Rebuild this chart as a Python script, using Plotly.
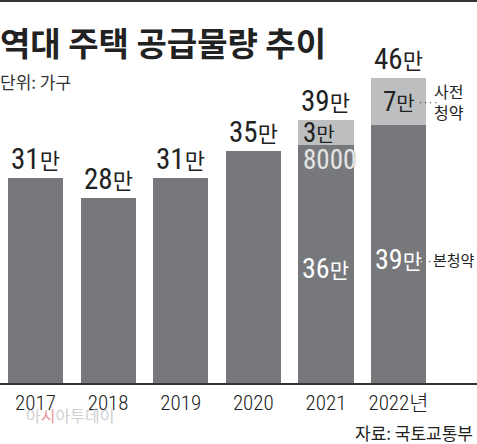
import plotly.graph_objects as go

# ---- data ----
years = ["2017", "2018", "2019", "2020", "2021", "2022년"]
main_supply = [31, 28, 31, 35, 36, 39]        # 본청약 (만 가구)
pre_subscription = [0, 0, 0, 0, 3.8, 7]         # 사전청약 (만 가구)
total_labels = ["31만", "28만", "31만", "35만", "39만", "46만"]
main_labels = ["", "", "", "", "36만", "39만"]
pre_labels = ["", "", "", "", "3만", "7만"]

DARK = "#77787b"
LIGHT = "#bdbec0"
TXT = "#222222"
NUM_FONT = "Roboto Condensed, Noto Sans CJK KR, sans-serif"
KR_FONT = "Noto Sans CJK KR, sans-serif"

xs = list(range(len(years)))
totals = [a + b for a, b in zip(main_supply, pre_subscription)]

fig = go.Figure()
fig.add_trace(go.Bar(x=xs, y=main_supply, width=0.76, marker=dict(color=DARK, line=dict(width=0)),
                     hoverinfo="skip", showlegend=False))
fig.add_trace(go.Bar(x=xs, y=pre_subscription, width=0.76, marker=dict(color=LIGHT, line=dict(width=0)),
                     hoverinfo="skip", showlegend=False))

PX_PER_UNIT = 6.62
PLOT_H = 383
ymax = PLOT_H / PX_PER_UNIT

def val(txt, hsize=22):
    out = ""
    for ch in txt:
        if ch.isdigit():
            out += ch
        else:
            out += f"<span style='font-size:{hsize}px'>{ch}</span>"
    return out

ann = []
for i, (t, lab) in enumerate(zip(totals, total_labels)):
    ann.append(dict(x=i, y=t, xref="x", yref="y", text=val(lab, 22), showarrow=False,
                    yanchor="bottom", yshift=0, font=dict(family=NUM_FONT, size=29, color=TXT)))
for i, lab in enumerate(main_labels):
    if lab:
        ann.append(dict(x=i, y=main_supply[i] * 0.48, xref="x", yref="y", text=val(lab, 21),
                        showarrow=False, font=dict(family=NUM_FONT, size=28, color="white")))
ann.append(dict(x=4 - 0.38, y=main_supply[4] + pre_subscription[4] / 2 - 0.2, xref="x", yref="y",
                text=val(pre_labels[4], 20), showarrow=False, xanchor="left", xshift=3,
                font=dict(family=NUM_FONT, size=27, color=TXT)))
ann.append(dict(x=4 - 0.38, y=main_supply[4] - 2.3, xref="x", yref="y", text="8000",
                showarrow=False, xanchor="left", xshift=3,
                font=dict(family=NUM_FONT, size=27, color="#e3e3e3", shadow="0 0 2px #8a8a8a")))
ann.append(dict(x=5, y=main_supply[5] + pre_subscription[5] / 2, xref="x", yref="y",
                text=val(pre_labels[5], 20), showarrow=False,
                font=dict(family=NUM_FONT, size=27, color=TXT)))

edge = 5 + 0.38
y_pre = main_supply[5] + pre_subscription[5] / 2
y_main = main_supply[5] * 0.48
# dotted leaders
ann.append(dict(x=edge, y=y_pre - 0.2, xref="x", yref="y", text="····", showarrow=False,
                xanchor="left", xshift=-10, font=dict(family=KR_FONT, size=9, color="#333")))
ann.append(dict(x=edge, y=y_main - 0.4, xref="x", yref="y", text="··", showarrow=False,
                xanchor="right", xshift=0, font=dict(family=KR_FONT, size=9, color="white")))
ann.append(dict(x=edge, y=y_main - 0.4, xref="x", yref="y", text="··", showarrow=False,
                xanchor="left", xshift=-1, font=dict(family=KR_FONT, size=9, color="#333")))
ann.append(dict(x=edge, y=y_pre, xref="x", yref="y",
                text="사전<br>청약", showarrow=False, xanchor="left", xshift=6, align="left",
                font=dict(family=KR_FONT, size=16, color=TXT)))
ann.append(dict(x=edge, y=y_main, xref="x", yref="y",
                text="본청약", showarrow=False, xanchor="left", xshift=5,
                font=dict(family=KR_FONT, size=15, color=TXT)))

def py(p):
    return (PLOT_H - p) / PLOT_H

ann.append(dict(x=0, y=py(42), xref="paper", yref="paper", text="<b>역대 주택 공급물량 추이</b>",
                showarrow=False, xanchor="left", yanchor="middle", xshift=-2,
                font=dict(family=KR_FONT, size=33, color=TXT)))
ann.append(dict(x=0, y=py(82), xref="paper", yref="paper", text="단위: 가구",
                showarrow=False, xanchor="left", yanchor="middle", xshift=-2,
                font=dict(family=KR_FONT, size=17, color="#333")))
ann.append(dict(x=1, y=py(432), xref="paper", yref="paper", text="자료: 국토교통부",
                showarrow=False, xanchor="right", yanchor="middle", xshift=-2,
                font=dict(family=KR_FONT, size=17, color=TXT)))
ann.append(dict(x=0, y=py(415), xref="paper", yref="paper",
                text="아<span style='color:#e89a9a'>시</span>아투데이",
                showarrow=False, xanchor="left", yanchor="middle", xshift=24,
                font=dict(family=KR_FONT, size=16, color="#d0d0d0")))

fig.update_layout(
    width=477, height=444,
    margin=dict(l=0, r=0, t=0, b=61),
    paper_bgcolor="white", plot_bgcolor="white",
    barmode="stack", bargap=0,
    annotations=ann,
    shapes=[dict(type="line", xref="paper", yref="paper", x0=0, x1=1, y0=py(1), y1=py(1),
                 line=dict(color="#333", width=2))],
    xaxis=dict(range=[-0.489, 6.081], tickvals=xs, ticktext=years, ticks="",
               showline=True, linecolor="#333", linewidth=1.5, showgrid=False, zeroline=False,
               tickfont=dict(family=NUM_FONT, size=21, color=TXT, weight=300), fixedrange=True),
    xaxis2=dict(range=[-0.489, 6.081], overlaying="x", anchor="y", side="bottom",
                tickvals=[i + 0.5 for i in xs[:-1]], ticks="inside", ticklen=7, tickwidth=1,
                tickcolor="#333", showticklabels=False, showline=False, showgrid=False,
                zeroline=False),
    yaxis=dict(range=[0, ymax], visible=False, fixedrange=True),
)

fig.write_html("out.html")
